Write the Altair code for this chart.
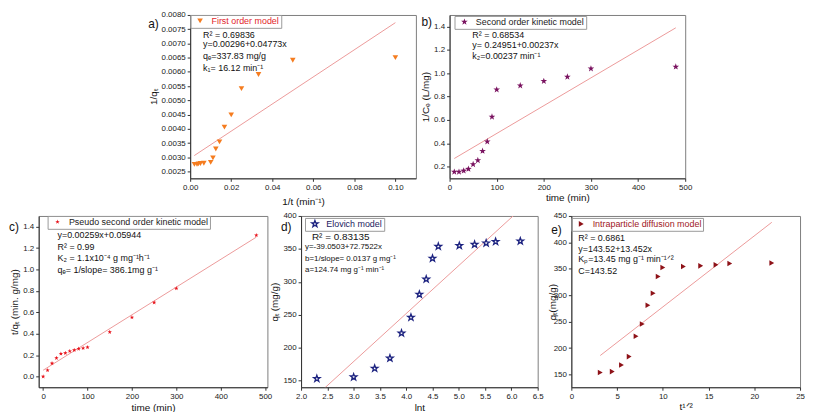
import altair as alt
import pandas as pd

FONT = "Liberation Sans"
STAR = "M0,-1L0.235,-0.324L0.951,-0.309L0.38,0.124L0.588,0.809L0,0.4L-0.588,0.809L-0.38,0.124L-0.951,-0.309L-0.235,-0.324Z"

# ---------------- data ----------------
# a) first order model: 1/t vs 1/q_t
a_x = [0.10, 0.05, 0.0333, 0.025, 0.02, 0.0167, 0.0143, 0.0125, 0.0111, 0.010, 0.00667, 0.005, 0.004, 0.00333, 0.00208]
a_y = [0.00650, 0.00641, 0.00591, 0.00541, 0.00449, 0.00406, 0.00354, 0.00329, 0.00298, 0.00282, 0.00279, 0.00278, 0.00277, 0.00275, 0.00275]
a_fit_x = [0.002, 0.100]
a_fit_y = [0.00306, 0.00773]

# b) second order kinetic model: time vs 1/Ce
b_x = [10, 20, 30, 40, 50, 60, 70, 80, 90, 100, 150, 200, 250, 300, 480]
b_y = [0.155, 0.155, 0.165, 0.18, 0.22, 0.254, 0.334, 0.415, 0.627, 0.86, 0.895, 0.933, 0.97, 1.04, 1.056]
b_fit_x = [10, 480]
b_fit_y = [0.27, 1.39]

# c) pseudo second order: time vs t/q_t
c_x = [0, 10, 20, 30, 40, 50, 60, 70, 80, 90, 100, 150, 200, 250, 300, 480]
c_y = [0.0, 0.059, 0.123, 0.173, 0.213, 0.219, 0.237, 0.247, 0.259, 0.265, 0.274, 0.416, 0.552, 0.691, 0.823, 1.32]
c_fit_x = [0, 480]
c_fit_y = [0.059, 1.302]

# d) Elovich: ln t vs q_t
d_x = [2.30, 3.00, 3.40, 3.69, 3.91, 4.09, 4.25, 4.38, 4.50, 4.61, 5.01, 5.30, 5.52, 5.70, 6.17]
d_y = [153, 155.5, 168.6, 184, 222, 246, 281, 304, 335.6, 353.7, 355, 356.7, 358.8, 361, 361.8]
d_fit_x = [2.30, 6.17]
d_fit_y = [128, 410]

# e) intraparticle diffusion: t^1/2 vs q_t
e_x = [3.16, 4.47, 5.48, 6.32, 7.07, 7.75, 8.37, 8.94, 9.49, 10.0, 12.25, 14.14, 15.81, 17.32, 21.91]
e_y = [153.8, 155.6, 168, 184, 222.5, 245.6, 281, 303.8, 335.6, 352.5, 354.4, 355.6, 357.5, 360, 361]
e_fit_x = [3.16, 21.91]
e_fit_y = [186, 438]

a_xt = [0.0, 0.02, 0.04, 0.06, 0.08, 0.10]
a_yt = [0.0025, 0.0030, 0.0035, 0.0040, 0.0045, 0.0050, 0.0055, 0.0060, 0.0065, 0.0070, 0.0075, 0.0080]
b_xt = [0, 100, 200, 300, 400, 500]
b_yt = [0.2, 0.4, 0.6, 0.8, 1.0, 1.2, 1.4]
c_xt = [0, 100, 200, 300, 400, 500]
c_yt = [0.0, 0.2, 0.4, 0.6, 0.8, 1.0, 1.2, 1.4]
d_xt = [2.0, 2.5, 3.0, 3.5, 4.0, 4.5, 5.0, 5.5, 6.0, 6.5]
d_yt = [150, 200, 250, 300, 350, 400]
e_xt = [0, 5, 10, 15, 20, 25]
e_yt = [150, 200, 250, 300, 350, 400, 450]

a_txt = ["R² = 0.69836", "y=0.00296+0.04773x", "qₑ=337.83 mg/g", "k₁= 16.12 min⁻¹"]
b_txt = ["R² = 0.68534", "y= 0.24951+0.00237x", "k₂=0.00237 min⁻¹"]
c_txt = ["y=0.00259x+0.05944", "R² = 0.99", "K₂ = 1.1x10⁻⁴ g mg⁻¹h⁻¹", "qₑ= 1/slope= 386.1mg g⁻¹"]
d_txt = ["R² = 0.83135", "y=-39.0503+72.7522x", "b=1/slope= 0.0137 g mg⁻¹", "a=124.74 mg g⁻¹ min⁻¹"]
e_txt = ["R² = 0.6861", "y=143.52+13.452x", "Kₚ=13.45 mg g⁻¹ min⁻¹ᐟ²", "C=143.52"]


def dummy():
    return alt.Chart(pd.DataFrame({"k": [0]}))


def panel(px, py, fx, fy, xdom, ydom, xt, yt, xfmt, yfmt, w, h,
          label, color, shape, size, filled, lab_color, leg_xy,
          xtitle, ytitle, texts, txt_x, txt_y, txt_sizes, tag, tag_xy,
          xtp=3, ytp=3):
    pts = pd.DataFrame({"x": px, "y": py, "s": [label] * len(px)})
    fit = pd.DataFrame({"x": fx, "y": fy})
    X = alt.X("x:Q", scale=alt.Scale(domain=xdom, nice=False, zero=False),
              axis=alt.Axis(values=xt, format=xfmt, title=xtitle, titlePadding=xtp))
    Y = alt.Y("y:Q", scale=alt.Scale(domain=ydom, nice=False, zero=False),
              axis=alt.Axis(values=yt, format=yfmt, title=ytitle, titlePadding=ytp))
    line = alt.Chart(fit).mark_line(color="#ec9a9a", strokeWidth=1, clip=True).encode(x=X, y=Y)
    mk = dict(shape=shape, size=size, filled=filled, opacity=1, clip=True)
    if not filled:
        mk["strokeWidth"] = 1.3
    pt = alt.Chart(pts).mark_point(**mk).encode(
        x=X, y=Y,
        color=alt.Color("s:N", scale=alt.Scale(domain=[label], range=[color]),
                        legend=alt.Legend(orient="none", legendX=leg_xy[0], legendY=leg_xy[1],
                                          title=None, strokeColor="#9a9a9a", padding=1.5,
                                          labelFont=FONT, labelFontSize=9, labelColor=lab_color,
                                          symbolType=shape, symbolSize=size, symbolOffset=4,
                                          labelOffset=7, symbolStrokeWidth=1.3 if not filled else 0)))
    layers = [line, pt]
    for t, tx, ty, fs in zip(texts, txt_x, txt_y, txt_sizes):
        layers.append(dummy().mark_text(text=t, align="left", baseline="middle", font=FONT,
                                        fontSize=fs, color="#111").encode(x=alt.value(tx), y=alt.value(ty)))
    layers.append(dummy().mark_text(text=tag, align="center", baseline="middle", font=FONT,
                                    fontSize=12, color="#111").encode(x=alt.value(tag_xy[0]), y=alt.value(tag_xy[1])))
    return alt.layer(*layers).properties(width=w, height=h)


H1, H2 = 165, 173

pa = panel(a_x, a_y, a_fit_x, a_fit_y, [0, 0.11], [0.00226, 0.0080], a_xt, a_yt, ".2f", ".4f", 228, H1,
           "First order model", "#f57c1f", "triangle-down", 32, True, "#e3262b", (0, 0),
           "1/t (min⁻¹)", "1/qₜ", a_txt, [13] * 4, [20, 29, 41, 54], [9] * 4, "a)", (-37, 9), xtp=5)

pb = panel(b_x, b_y, b_fit_x, b_fit_y, [0, 500], [0.1, 1.5], b_xt, b_yt, "d", ".1f", 238, H1,
           "Second order kinetic model", "#7a1360", STAR, 50, True, "#222", (5, 1),
           "time (min)", "1/Cₑ (L/mg)", b_txt, [23] * 3, [20, 30, 41], [9] * 3, "b)", (-23, 7), xtp=1)

pc = panel(c_x, c_y, c_fit_x, c_fit_y, [-10, 505], [-0.1, 1.5], c_xt, c_yt, "d", ".1f", 231, H2,
           "Pseudo second order kinetic model", "#e8141c", STAR, 22, True, "#222", (9, 0),
           "time (min)", "t/qₜ (min. g/mg)", c_txt, [19] * 4, [19, 31, 42, 55], [9] * 4, "c)", (-25, 11))

pd_ = panel(d_x, d_y, d_fit_x, d_fit_y, [2.0, 6.5], [140, 400], d_xt, d_yt, ".1f", "d", 239, H2,
            "Elovich model", "#1d2380", STAR, 48, False, "#1d2360", (4, 2),
            "lnt", "qₜ (mg/g)", d_txt, [11, 4, 4, 4], [21, 31, 43, 55], [10, 8, 8, 8], "d)", (-15, 11))

pe = panel(e_x, e_y, e_fit_x, e_fit_y, [0, 25], [126, 450], e_xt, e_yt, "d", "d", 231, H2,
           "Intraparticle diffusion model", "#8e1218", "triangle-right", 32, True, "#a0181e", (0, 2),
           "t¹ᐟ²", "qₜ(mg/g)", e_txt, [7] * 4, [22, 33, 44, 56], [9] * 4, "e)", (-15, 14), xtp=1, ytp=-4)

SPW = 119
spacer = dummy().mark_rect(opacity=0).encode(
    x=alt.value(0), x2=alt.value(SPW), y=alt.value(0), y2=alt.value(H1)
).properties(width=SPW, height=H1, view=alt.ViewBackground(stroke="transparent"))

row1 = alt.hconcat(spacer, pa, pb, bounds="flush", spacing=34).resolve_scale(color="independent")
row2 = alt.hconcat(pc, pd_, pe, bounds="flush", spacing=34).resolve_scale(color="independent")

chart = alt.vconcat(row1, row2, spacing=4)
chart = chart.resolve_scale(color="independent").properties(padding=0)
chart = chart.configure_view(stroke="#7d7d7d", strokeWidth=1).configure_axis(
    labelFont=FONT, labelFontSize=8, labelColor="#222", titleFont=FONT, titleFontSize=10,
    titleFontWeight="normal", titleColor="#111", tickSize=3, tickColor="#333", domainColor="#333",
    grid=False, labelFlush=False, labelOverlap=False, labelPadding=2
)

chart.save("out.html", embed_options={"renderer": "svg", "actions": False})
